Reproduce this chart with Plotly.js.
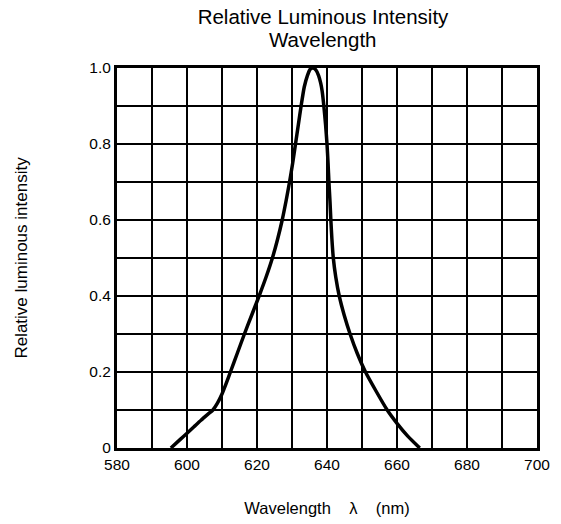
<!DOCTYPE html>
<html>
<head>
<meta charset="utf-8">
<script src="https://cdn.plot.ly/plotly-3.0.1.min.js"></script>
<style>html,body{margin:0;padding:0;background:#fff;}#chart{width:561px;height:524px;}</style>
</head>
<body>
<div id="chart"></div>
<script>
// Wavelength (nm) and relative luminous intensity
var wavelength = [595.4, 598, 600, 602, 604, 606, 607.4, 608.7, 610, 611.2, 612.4, 614.4, 616.4, 618.5, 620.6, 622.6, 624.4, 625.9, 627.2, 628.3, 629.3, 630.2, 631.0, 631.8, 632.6, 633.5, 634.4, 635.2, 636.0, 636.8, 637.6, 638.2, 638.6, 639.1, 639.6, 640.0, 640.3, 640.55, 640.85, 641.1, 641.4, 641.8, 642.5, 643.5, 644.9, 646.6, 648.6, 651.0, 654.0, 657.2, 660.0, 663.0, 666.5];
var intensity  = [0, 0.022, 0.039, 0.056, 0.073, 0.089, 0.1, 0.118, 0.142, 0.17, 0.2, 0.25, 0.3, 0.35, 0.4, 0.45, 0.5, 0.55, 0.6, 0.65, 0.7, 0.75, 0.8, 0.85, 0.9, 0.95, 0.98, 0.997, 1.0, 0.995, 0.98, 0.96, 0.94, 0.9, 0.85, 0.8, 0.75, 0.7, 0.65, 0.6, 0.55, 0.5, 0.45, 0.4, 0.35, 0.3, 0.25, 0.2, 0.15, 0.1, 0.065, 0.032, 0];

var xTickVals = [580, 600, 620, 640, 660, 680, 700];
var xTickText = ['580', '600', '620', '640', '660', '680', '700'];
var yTickVals = [0, 0.2, 0.4, 0.6, 0.8, 1.0];
var yTickText = ['0', '0.2', '0.4', '0.6', '0.8', '1.0'];
var titleLine1 = 'Relative Luminous Intensity';
var titleLine2 = 'Wavelength';

var FONT = '"Liberation Sans", Arial, Helvetica, sans-serif';

var trace = {
  x: wavelength,
  y: intensity,
  type: 'scatter',
  mode: 'lines',
  line: {color: '#000', width: 3.5, shape: 'spline', smoothing: 0.6},
  hoverinfo: 'skip',
  showlegend: false
};

var ML = 117, MT = 68, PW = 420, PH = 380;

var layout = {
  width: 561,
  height: 524,
  margin: {l: ML, r: 561 - ML - PW, t: MT, b: 524 - MT - PH},
  paper_bgcolor: '#fff',
  plot_bgcolor: '#fff',
  font: {family: FONT, color: '#000'},
  title: {
    text: titleLine1,
    font: {family: FONT, size: 20.5, color: '#000'},
    x: 323 / 561, xref: 'container', xanchor: 'center',
    y: 1 - 17 / 524, yref: 'container', yanchor: 'middle'
  },
  annotations: [{
    text: titleLine2,
    font: {family: FONT, size: 20.5, color: '#000'},
    xref: 'paper', yref: 'paper',
    x: (323 - ML) / PW, y: 1 + (MT - 39) / PH,
    xanchor: 'center', yanchor: 'middle',
    showarrow: false
  }],
  xaxis: {
    range: [580, 700],
    tickvals: xTickVals,
    ticktext: xTickText,
    ticks: '',
    showgrid: true, gridcolor: '#000', gridwidth: 1.3,
    minor: {dtick: 10, showgrid: true, gridcolor: '#000', gridwidth: 1.3},
    showline: true, linecolor: '#000', linewidth: 3, mirror: true,
    zeroline: false,
    tickfont: {family: FONT, size: 15.5, color: '#000'},
    title: {text: 'Wavelength\u00a0\u00a0\u00a0\u00a0λ\u00a0\u00a0\u00a0\u00a0(nm)', font: {family: FONT, size: 16.5, color: '#000'}, standoff: 31},
    automargin: false,
    fixedrange: true
  },
  yaxis: {
    range: [0, 1.0],
    tickvals: yTickVals,
    ticktext: yTickText,
    ticks: '',
    showgrid: true, gridcolor: '#000', gridwidth: 1.3,
    minor: {dtick: 0.1, showgrid: true, gridcolor: '#000', gridwidth: 1.3},
    showline: true, linecolor: '#000', linewidth: 3, mirror: true,
    zeroline: false,
    tickfont: {family: FONT, size: 15.5, color: '#000'},
    title: {text: 'Relative luminous intensity', font: {family: FONT, size: 17, color: '#000'}, standoff: 58},
    automargin: false,
    fixedrange: true
  }
};

Plotly.newPlot('chart', [trace], layout, {displayModeBar: false, staticPlot: true});
</script>
</body>
</html>
